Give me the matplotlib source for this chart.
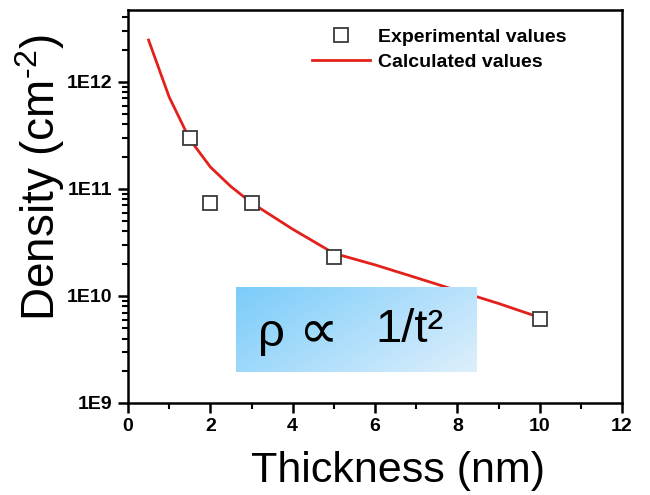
import numpy as np
import matplotlib
matplotlib.use('Agg')
import matplotlib.pyplot as plt
from matplotlib.ticker import FixedLocator, MultipleLocator, LogLocator, NullFormatter

plt.rcParams['font.family'] = ['Liberation Sans', 'DejaVu Sans']
plt.rcParams['mathtext.fontset'] = 'custom'
plt.rcParams['mathtext.rm'] = 'Liberation Sans'

# experimental points
exp_thickness = [1.5, 2, 3, 5, 10]
exp_density = [3.0e11, 7.4e10, 7.3e10, 2.3e10, 6.1e9]

# calculated curve
calc_thickness = [0.5, 0.7, 1.0, 1.5, 2.0, 2.5, 3.0, 4.0, 5.0, 6.0, 7.0, 8.0, 9.0, 10.0]
calc_density = [2.45e12, 1.5e12, 7.2e11, 2.9e11, 1.6e11, 1.05e11, 7.4e10,
                4.2e10, 2.5e10, 1.95e10, 1.48e10, 1.12e10, 8.5e9, 6.3e9]

ytick_vals = [1e9, 1e10, 1e11, 1e12]
ytick_labels = ['1E9', '1E10', '1E11', '1E12']

fig = plt.figure(figsize=(6.5, 4.95), dpi=100)
ax = fig.add_axes([128 / 650, 1 - 403 / 495, 494 / 650, 393 / 495])

ax.plot(calc_thickness, calc_density, color='#e3201b', lw=2, label='Calculated values', zorder=2)
ax.plot(exp_thickness, exp_density, 's', ms=9.5, mfc='white', mec='#3a3a3a', mew=1.3,
        label='Experimental values', zorder=3)

ax.set_yscale('log')
ax.set_xlim(0, 12)
ax.set_ylim(1e9, 10 ** 12.67)
ax.xaxis.set_major_locator(MultipleLocator(2))
ax.xaxis.set_minor_locator(MultipleLocator(1))
ax.yaxis.set_major_locator(FixedLocator(ytick_vals))
ax.set_yticklabels(ytick_labels)
ax.yaxis.set_minor_locator(LogLocator(base=10, subs=np.arange(2, 10)))
ax.yaxis.set_minor_formatter(NullFormatter())

for s in ax.spines.values():
    s.set_linewidth(1.8)
ax.tick_params(which='major', direction='out', length=7, width=1.8, labelsize=14, pad=4)
ax.tick_params(which='minor', direction='out', length=4, width=1.5)
for lbl in ax.get_xticklabels() + ax.get_yticklabels():
    lbl.set_fontweight('bold')

handles, labels = ax.get_legend_handles_labels()
leg = ax.legend(handles[::-1], labels[::-1], loc='upper left',
                bbox_to_anchor=(312 / 650, 1 - 28 / 495), bbox_transform=fig.transFigure,
                frameon=False, borderpad=0, borderaxespad=0, handlelength=3.0,
                handletextpad=0.4, labelspacing=0.4, prop={'weight': 'bold', 'size': 14})

fig.text(398 / 650, 1 - 482 / 495, 'Thickness (nm)', ha='center', va='baseline', fontsize=31)
fig.text(40 / 650, 1 - 178 / 495, 'Density (cm$^{\\text{-}2}$)', rotation=90, ha='center',
         va='center', fontsize=33)

# gradient formula box
bax = fig.add_axes([236 / 650, 1 - 372 / 495, 241 / 650, 85 / 495], zorder=5)
gx, gy = np.meshgrid(np.linspace(0, 1, 200), np.linspace(0, 1, 80))
t = np.clip(0.65 * gx + 0.35 * gy, 0, 1)[..., None]
c0 = np.array([122, 204, 250]) / 255
c1 = np.array([222, 239, 252]) / 255
bax.imshow(c0 + (c1 - c0) * t, aspect='auto', extent=(0, 1, 0, 1), origin='upper')
bax.set_axis_off()
bax.text(0.145, 0.45, 'ρ', ha='center', va='center', fontsize=34, transform=bax.transAxes)
bax.text(0.34, 0.47, '∝', ha='center', va='center', fontsize=40, style='oblique',
         family='DejaVu Sans', transform=bax.transAxes)
bax.text(0.72, 0.5, '1/t²', ha='center', va='center', fontsize=34, transform=bax.transAxes)

fig.savefig('out.png', dpi=100)
